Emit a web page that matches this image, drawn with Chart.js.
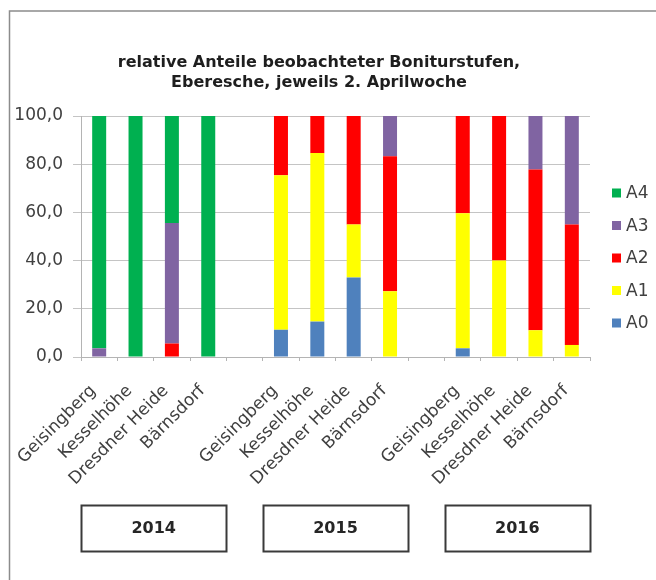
<!DOCTYPE html>
<html>
<head>
<meta charset="utf-8">
<script src="https://cdn.jsdelivr.net/npm/chart.js@4.4.1/dist/chart.umd.min.js"></script>
<style>
html,body{margin:0;padding:0;background:#ffffff;}
#wrap{width:656px;height:580px;}
</style>
</head>
<body>
<div id="wrap"><canvas id="c" width="656" height="580"></canvas></div>
<script>
// ---- data ----
const categories = ['Geisingberg','Kesselhöhe','Dresdner Heide','Bärnsdorf','',
                    'Geisingberg','Kesselhöhe','Dresdner Heide','Bärnsdorf','',
                    'Geisingberg','Kesselhöhe','Dresdner Heide','Bärnsdorf'];
const years = ['2014','2015','2016'];
const yearGroupCenters = [1.5, 6.5, 11.5];
const seriesNames = ['A0','A1','A2','A3','A4'];
const valuesA0 = [0, 0, 0, 0, null, 11.3, 14.7, 33.0, 0, null, 3.6, 0, 0, 0];
const valuesA1 = [0, 0, 0, 0, null, 64.1, 69.9, 22.0, 27.3, null, 56.0, 40.0, 11.1, 5.0];
const valuesA2 = [0, 0, 5.6, 0, null, 24.6, 15.4, 45.0, 56.0, null, 40.4, 60.0, 66.7, 50.0];
const valuesA3 = [3.6, 0, 50.0, 0, null, 0, 0, 0, 16.7, null, 0, 0, 22.2, 45.0];
const valuesA4 = [96.4, 100, 44.4, 100, null, 0, 0, 0, 0, null, 0, 0, 0, 0];
const yTickValues = [0, 20, 40, 60, 80, 100];
const yTickLabels = ['0,0', '20,0', '40,0', '60,0', '80,0', '100,0'];
const titleLines = ['relative Anteile beobachteter Boniturstufen,', 'Eberesche, jeweils 2. Aprilwoche'];

// ---- styles ----
const seriesColors = ['#4F81BD', '#FFFF00', '#FF0000', '#8064A2', '#00B050'];
const FONT = "'DejaVu Sans', 'Liberation Sans', Arial, sans-serif";
const TEXT = '#404040';

const allValues = [valuesA0, valuesA1, valuesA2, valuesA3, valuesA4];
const datasets = seriesNames.map((n, i) => ({
  label: n,
  data: allValues[i],
  backgroundColor: seriesColors[i],
  borderWidth: 0,
  barPercentage: 0.385,
  categoryPercentage: 1.0,
  stack: 's'
}));

const decor = {
  id: 'decor',
  afterDraw(chart) {
    const ctx = chart.ctx;
    ctx.save();
    // outer frame (top + left)
    ctx.strokeStyle = '#8c8c8c';
    ctx.lineWidth = 1.5;
    ctx.beginPath();
    ctx.moveTo(9.5, 580);
    ctx.lineTo(9.5, 11);
    ctx.lineTo(656, 11);
    ctx.stroke();

    // legend (reverse order, top = A4)
    const ds = chart.data.datasets;
    ctx.font = '17px ' + FONT;
    ctx.textBaseline = 'middle';
    ctx.textAlign = 'left';
    for (let k = 0; k < ds.length; k++) {
      const d = ds[ds.length - 1 - k];
      const cy = 193 + k * 32.5;
      ctx.fillStyle = d.backgroundColor;
      ctx.fillRect(612, cy - 4.5, 9, 9);
      ctx.fillStyle = TEXT;
      ctx.fillText(d.label, 626, cy + 1);
    }

    // year boxes under groups
    const xs = chart.scales.x;
    ctx.font = 'bold 16px ' + FONT;
    ctx.textAlign = 'center';
    for (let i = 0; i < years.length; i++) {
      const cx = xs.getPixelForValue(yearGroupCenters[i]);
      const w = 145, h = 46, top = 505;
      ctx.strokeStyle = '#3a3a3a';
      ctx.lineWidth = 2;
      ctx.strokeRect(Math.round(cx - w / 2) + 0.5, top + 0.5, w, h);
      ctx.fillStyle = '#262626';
      ctx.fillText(years[i], cx, top + h / 2 + 1);
    }
    ctx.restore();
  }
};

new Chart(document.getElementById('c'), {
  type: 'bar',
  data: { labels: categories, datasets: datasets },
  plugins: [decor],
  options: {
    responsive: false,
    devicePixelRatio: 1,
    animation: false,
    layout: { padding: { left: 0, right: 18, top: 0, bottom: 0 } },
    plugins: {
      legend: { display: false },
      tooltip: { enabled: false },
      title: {
        display: true,
        text: titleLines,
        color: '#1e1e1e',
        font: { family: FONT, size: 16, weight: 'bold', lineHeight: 1.25 },
        padding: { top: 52.5, bottom: 23.5 }
      }
    },
    scales: {
      x: {
        stacked: true,
        offset: true,
        grid: { display: true, drawOnChartArea: false, drawTicks: true, tickLength: 4, color: '#b4b4b4', offset: true },
        border: { display: true, color: '#b4b4b4', width: 1 },
        ticks: {
          autoSkip: false,
          maxRotation: 45,
          minRotation: 45,
          padding: 20,
          labelOffset: -6,
          color: TEXT,
          font: { family: FONT, size: 17 }
        },
        afterFit(s) { s.height = 223; }
      },
      y: {
        stacked: true,
        min: 0,
        max: 100,
        afterBuildTicks(s) { s.ticks = yTickValues.map(v => ({ value: v })); },
        ticks: {
          padding: 10,
          color: TEXT,
          font: { family: FONT, size: 17 },
          callback(v) { const i = yTickValues.indexOf(v); return i >= 0 ? yTickLabels[i] : ''; }
        },
        grid: { color: '#c4c4c4', lineWidth: 1, tickLength: 8, drawTicks: true },
        border: { display: true, color: '#b4b4b4', width: 1 },
        afterFit(s) { s.width = 81; }
      },
      ySpacer: {
        position: 'right',
        display: true,
        grid: { display: false, drawTicks: false },
        border: { display: false },
        ticks: { display: false },
        afterFit(s) { s.width = 48; }
      }
    }
  }
});
</script>
</body>
</html>
